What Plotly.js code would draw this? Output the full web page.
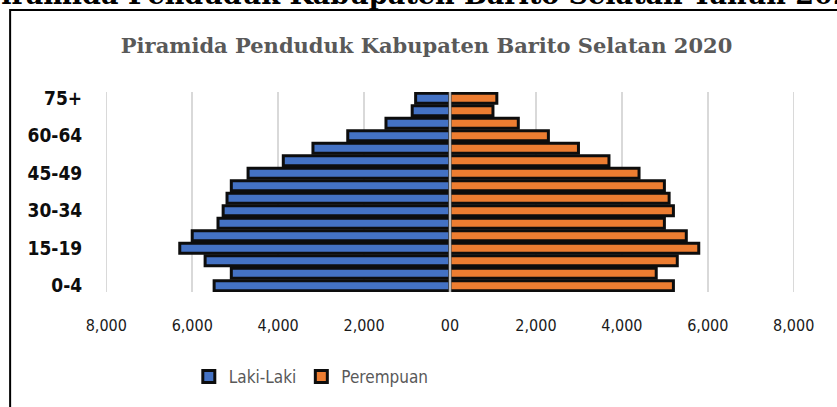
<!DOCTYPE html>
<html>
<head>
<meta charset="utf-8">
<script src="https://cdn.plot.ly/plotly-3.0.1.min.js"></script>
<style>
  html, body { margin: 0; padding: 0; background: #ffffff; }
  #chart { width: 837px; height: 407px; }
</style>
</head>
<body>
<div id="chart"></div>
<script>
const pageTitle = 'Piramida Penduduk Kabupaten Barito Selatan Tahun 2020';
const chartTitle = 'Piramida Penduduk Kabupaten Barito Selatan 2020';
const categories = ['0-4','5-9','10-14','15-19','20-24','25-29','30-34','35-39','40-44','45-49','50-54','55-59','60-64','65-69','70-74','75+'];
const lakiLaki  = [5490, 5090, 5700, 6290, 6000, 5400, 5280, 5190, 5090, 4700, 3880, 3190, 2380, 1490, 880, 800];
const perempuan = [5200, 4800, 5290, 5790, 5500, 4990, 5200, 5100, 4990, 4400, 3700, 2990, 2290, 1590, 1000, 1090];
const seriesNames = ['Laki-Laki', 'Perempuan'];
const yTickLabels = ['0-4','15-19','30-34','45-49','60-64','75+'];
const xTickVals = [-8000, -6000, -4000, -2000, 0, 2000, 4000, 6000, 8000];
const xTickText = ['8,000','6,000','4,000','2,000','00','2,000','4,000','6,000','8,000'];

const bodyFont = 'Liberation Sans Narrow, DejaVu Sans Condensed, Roboto, sans-serif';
const serifFont = 'DejaVu Serif, serif';

const traces = [
  {
    type: 'bar', orientation: 'h', name: seriesNames[0],
    y: categories, x: lakiLaki.map(v => -v),
    marker: { color: '#4472C4', line: { color: '#0d0d0d', width: 3 } },
    hoverinfo: 'skip'
  },
  {
    type: 'bar', orientation: 'h', name: seriesNames[1],
    y: categories, x: perempuan,
    marker: { color: '#ED7D31', line: { color: '#0d0d0d', width: 3 } },
    hoverinfo: 'skip'
  }
];

const layout = {
  width: 837, height: 407,
  margin: { l: 105, r: 42, t: 92, b: 115, pad: 0 },
  paper_bgcolor: '#ffffff', plot_bgcolor: '#ffffff',
  barmode: 'overlay', bargap: 0.2,
  showlegend: true,
  title: {
    text: chartTitle,
    font: { family: serifFont, size: 21, color: '#595959', weight: 'bold' },
    xref: 'paper', x: 0.466, xanchor: 'center',
    yref: 'container', y: 0.887, yanchor: 'middle'
  },
  xaxis: {
    range: [-8030, 8030], tickmode: 'array', tickvals: xTickVals, ticktext: xTickText,
    showgrid: true, gridcolor: '#d9d9d9', gridwidth: 1.5,
    zeroline: false, showline: false,
    ticks: 'outside', ticklen: 19, tickcolor: 'rgba(0,0,0,0)',
    tickfont: { family: bodyFont, size: 16, color: '#1a1a1a' },
    fixedrange: true
  },
  yaxis: {
    type: 'category', categoryorder: 'array', categoryarray: categories,
    tickmode: 'array', tickvals: yTickLabels, ticktext: yTickLabels,
    showgrid: false, zeroline: false, showline: false,
    ticks: 'outside', ticklen: 18, tickcolor: 'rgba(0,0,0,0)',
    tickfont: { family: bodyFont, size: 19, color: '#0d0d0d', weight: 'bold' },
    fixedrange: true
  },
  legend: {
    orientation: 'h', x: 0.299, xanchor: 'center', y: -0.425, yanchor: 'middle',
    font: { family: bodyFont, size: 17, color: '#595959' },
    bgcolor: 'rgba(0,0,0,0)', itemwidth: 30, traceorder: 'normal'
  },
  shapes: [
    { type: 'line', layer: 'above', xref: 'x', yref: 'y domain', x0: 0, x1: 0, y0: 0, y1: 1,
      line: { color: '#bfbfbf', width: 2.5 } },
    { type: 'rect', layer: 'below', xref: 'paper', yref: 'paper',
      x0: -0.1375, x1: 2, y0: -2, y1: 1.41,
      line: { color: '#000000', width: 2 }, fillcolor: 'rgba(0,0,0,0)' }
  ],
  annotations: [
    { text: pageTitle, showarrow: false, xref: 'paper', yref: 'paper',
      x: 0.465, xanchor: 'center', y: 1.49, yanchor: 'middle',
      font: { family: serifFont, size: 27, color: '#000000', weight: 'bold' } }
  ]
};

Plotly.newPlot('chart', traces, layout, { displayModeBar: false, staticPlot: true });
</script>
</body>
</html>
